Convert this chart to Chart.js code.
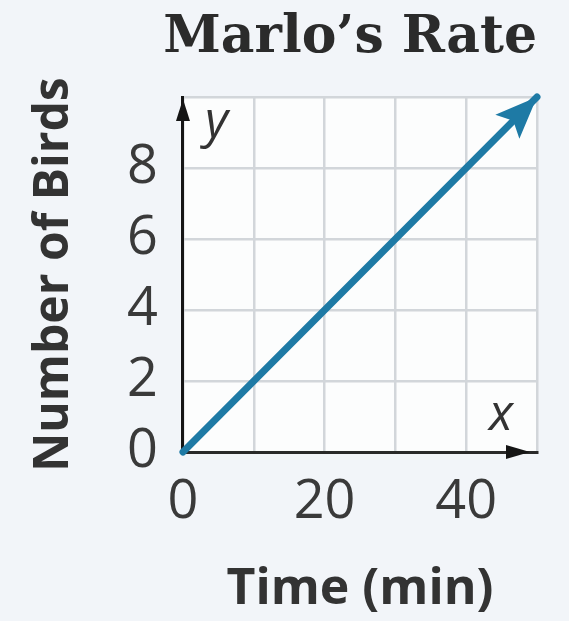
<!DOCTYPE html>
<html>
<head>
<meta charset="utf-8">
<script src="https://cdn.jsdelivr.net/npm/chart.js@4/dist/chart.umd.min.js"></script>
<style>
  html, body { margin: 0; padding: 0; background: #f2f5f9; }
  #wrap { width: 569px; height: 621px; }
</style>
</head>
<body>
<div id="wrap"><canvas id="rate"></canvas></div>
<script>
// Marlo's rate: straight line from the origin
var times = [0, 50];
var birds = [0, 10];
var xLabels = [0, 20, 40];
var yLabels = [0, 2, 4, 6, 8];

var lineColor = '#1e7aa5';

// background of plot, axis arrows, x / y letters, arrow at line end
var decorPlugin = {
  id: 'decor',
  beforeDraw: function (chart) {
    var a = chart.chartArea, ctx = chart.ctx;
    ctx.save();
    ctx.fillStyle = '#fcfdfd';
    ctx.fillRect(a.left, a.top, a.right - a.left, a.bottom - a.top);
    ctx.restore();
  },
  afterDraw: function (chart) {
    var a = chart.chartArea, ctx = chart.ctx;
    var xs = chart.scales.x, ys = chart.scales.y;
    ctx.save();
    // y axis arrow
    ctx.fillStyle = '#151515';
    ctx.beginPath();
    ctx.moveTo(a.left, a.top + 2);
    ctx.lineTo(a.left - 7, a.top + 24);
    ctx.lineTo(a.left + 7, a.top + 24);
    ctx.closePath();
    ctx.fill();
    // x axis arrow
    ctx.beginPath();
    ctx.moveTo(a.right - 7, a.bottom);
    ctx.lineTo(a.right - 31, a.bottom - 7);
    ctx.lineTo(a.right - 31, a.bottom + 7);
    ctx.closePath();
    ctx.fill();
    // axis letters
    ctx.fillStyle = '#333';
    ctx.font = 'italic 50px "Open Sans"';
    ctx.textBaseline = 'alphabetic';
    ctx.textAlign = 'left';
    ctx.fillText('y', a.left + 22, a.top + 40);
    ctx.fillText('x', a.right - 48, a.bottom - 22);
    // arrow head at end of the line
    var n = times.length - 1;
    var px = xs.getPixelForValue(times[n]), py = ys.getPixelForValue(birds[n]);
    var qx = xs.getPixelForValue(times[n - 1]), qy = ys.getPixelForValue(birds[n - 1]);
    var ang = Math.atan2(py - qy, px - qx);
    var len = 42, half = 17;
    ctx.fillStyle = lineColor;
    ctx.beginPath();
    ctx.moveTo(px, py);
    ctx.lineTo(px - len * Math.cos(ang) + half * Math.sin(ang), py - len * Math.sin(ang) - half * Math.cos(ang));
    ctx.lineTo(px - len * 0.8 * Math.cos(ang), py - len * 0.8 * Math.sin(ang));
    ctx.lineTo(px - len * Math.cos(ang) - half * Math.sin(ang), py - len * Math.sin(ang) + half * Math.cos(ang));
    ctx.closePath();
    ctx.fill();
    ctx.restore();
  }
};

var points = times.map(function (t, i) { return { x: t, y: birds[i] }; });

var ctx = document.getElementById('rate').getContext('2d');
var rateChart = new Chart(ctx, {
  type: 'scatter',
  data: {
    datasets: [{
      data: points,
      showLine: true,
      borderColor: lineColor,
      borderWidth: 7,
      borderCapStyle: 'round',
      pointRadius: 0,
      clip: false
    }]
  },
  options: {
    responsive: true,
    maintainAspectRatio: false,
    animation: false,
    layout: { padding: { top: 0, right: 32, bottom: 0, left: 0 } },
    plugins: {
      legend: { display: false },
      tooltip: { enabled: false },
      title: {
        display: true,
        text: 'Marlo’s Rate',
        align: 'end',
        color: '#2b2b2b',
        font: { family: '"DejaVu Serif"', weight: 'bold', size: 52 },
        padding: { top: 7, bottom: 27.6 }
      }
    },
    scales: {
      x: {
        type: 'linear',
        min: 0,
        max: 50,
        grid: { color: '#d2d6da', lineWidth: 2.5, drawTicks: false },
        border: { color: '#2a2a2a', width: 3 },
        ticks: {
          stepSize: 10,
          autoSkip: false,
          maxRotation: 0,
          padding: 18.6,
          color: '#3a3a3a',
          font: { family: '"Open Sans"', size: 54 },
          callback: function (v) { return xLabels.indexOf(v) >= 0 ? String(v) : ''; }
        },
        title: {
          display: true,
          text: 'Time (min)',
          color: '#333',
          font: { family: '"Open Sans"', weight: 'bold', size: 50 },
          padding: { top: 6, bottom: 1 }
        }
      },
      y: {
        type: 'linear',
        min: 0,
        max: 10,
        grid: { color: '#d2d6da', lineWidth: 2.5, drawTicks: false },
        border: { color: '#151515', width: 3 },
        ticks: {
          stepSize: 2,
          autoSkip: false,
          padding: 25,
          color: '#3a3a3a',
          font: { family: '"Open Sans"', size: 54 },
          callback: function (v) { return yLabels.indexOf(v) >= 0 ? String(v) : ''; }
        },
        title: {
          display: true,
          text: 'Number of Birds',
          color: '#333',
          font: { family: '"Open Sans"', weight: 'bold', size: 48 },
          padding: { top: 26, bottom: 18.5 }
        }
      }
    }
  },
  plugins: [decorPlugin]
});
</script>
</body>
</html>
